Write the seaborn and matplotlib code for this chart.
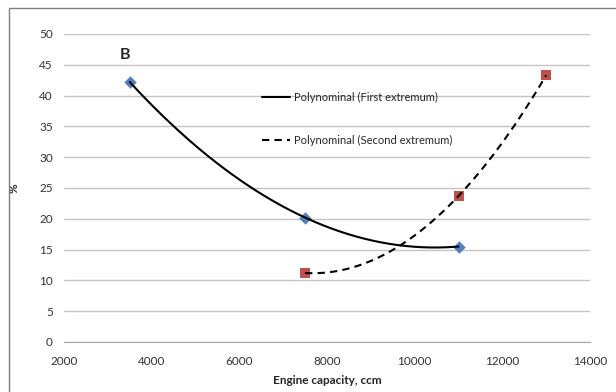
import numpy as np
import pandas as pd
import seaborn as sns
import matplotlib
matplotlib.use("Agg")
import matplotlib.pyplot as plt
from matplotlib.patches import Rectangle

# Data
x_first = [3500, 7500, 11000]
y_first = [42.2, 20.2, 15.5]
x_second = [7500, 11000, 13000]
y_second = [11.2, 23.7, 43.3]
label_first = "Polynominal (First extremum)"
label_second = "Polynominal (Second extremum)"
x_ticks = [2000, 4000, 6000, 8000, 10000, 12000, 14000]
y_ticks = [0, 5, 10, 15, 20, 25, 30, 35, 40, 45, 50]

sns.set_style("white")
plt.rcParams['font.family'] = ['Lato', 'DejaVu Sans']

fig = plt.figure(figsize=(6.16, 3.92), dpi=100)
ax = fig.add_axes([64/616, 1-342/392, (590-64)/616, (342-34)/392])

# polynomial (order 2) trendlines
def trend(xs, ys):
    c = np.polyfit(xs, ys, 2)
    xx = np.linspace(min(xs), max(xs), 200)
    return pd.DataFrame({"x": xx, "y": np.polyval(c, xx)})

t1 = trend(x_first, y_first)
t2 = trend(x_second, y_second)

sns.lineplot(data=t1, x="x", y="y", ax=ax, color="black", lw=1.5, label=label_first, zorder=3)
sns.lineplot(data=t2, x="x", y="y", ax=ax, color="black", lw=1.5, linestyle=(0, (3.5, 2.5)),
             label=label_second, zorder=3)

d1 = pd.DataFrame({"x": x_first, "y": y_first})
d2 = pd.DataFrame({"x": x_second, "y": y_second})
sns.scatterplot(data=d1, x="x", y="y", ax=ax, marker="D", s=40, color="#4F81BD",
                edgecolor="#4F81BD", linewidth=0, zorder=2, legend=False)
sns.scatterplot(data=d2, x="x", y="y", ax=ax, marker="s", s=55, color="#C0504D",
                edgecolor="#C0504D", linewidth=0, zorder=2, legend=False)

ax.set_xlim(2000, 14000)
ax.set_ylim(0, 50)
ax.set_xticks(x_ticks)
ax.set_yticks(y_ticks)
ax.set_xticklabels([str(v) for v in x_ticks], fontsize=8.5, color="#333333")
ax.set_yticklabels([str(v) for v in y_ticks], fontsize=8.5, color="#333333")
ax.yaxis.grid(True, color="#C4C4C4", lw=1)
ax.xaxis.grid(False)
for s in ["top", "right", "left"]:
    ax.spines[s].set_visible(False)
ax.spines["bottom"].set_color("#A6A6A6")
ax.tick_params(axis="x", direction="out", length=4, color="#A6A6A6", pad=6, width=1)
ax.tick_params(axis="y", length=0, pad=8)
ax.set_axisbelow(True)

ax.set_xlabel("Engine capacity, ccm", fontsize=8.5, fontweight="bold", labelpad=6)
ax.set_ylabel("%", fontsize=8.5, fontweight="bold", labelpad=14)

ax.text(3400, 46.6, "B", fontsize=11.5, fontweight="bold", ha="center", va="center")

ax.legend(loc="upper left", bbox_to_anchor=((262-64)/526, (342-92)/308), frameon=False,
          fontsize=8, handlelength=2.5, handletextpad=0.35, labelspacing=2.85,
          borderpad=0, borderaxespad=0)

fig.patches.append(Rectangle((9/616, -0.05), 1.2, 1-8/392+0.05, transform=fig.transFigure,
                             fill=False, edgecolor="#7F7F7F", lw=1, figure=fig))

fig.savefig("out.png", dpi=100, facecolor="white")
